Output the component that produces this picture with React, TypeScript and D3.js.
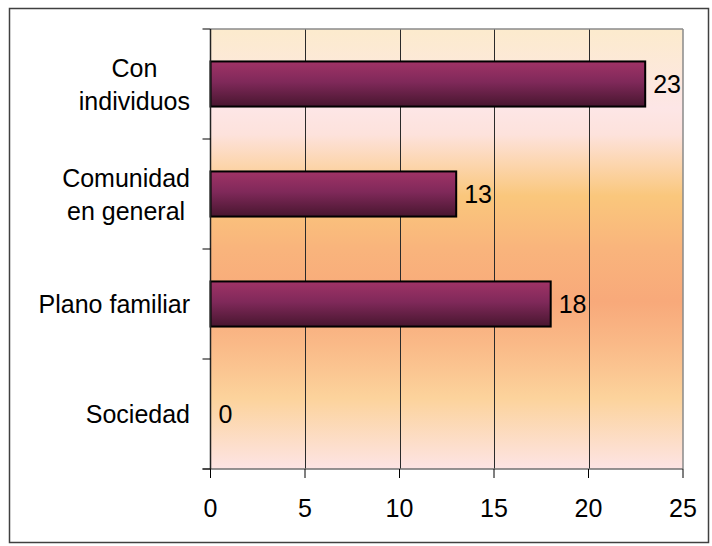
import React, { useEffect, useRef } from "react";
import * as d3 from "d3";

const categories: string[][] = [["Con", "individuos"], ["Comunidad", "en general"], ["Plano familiar"], ["Sociedad"]];
const values: number[] = [23, 13, 18, 0];
const xTicks: number[] = [0, 5, 10, 15, 20, 25];

const W = 712;
const H = 546;
const FONT = "'Liberation Sans', Arial, sans-serif";
const FS = 25;

export default function App() {
  const ref = useRef<SVGSVGElement | null>(null);

  useEffect(() => {
    const svg = d3.select(ref.current);
    svg.selectAll("*").remove();

    const left = 210.5, right = 683, top = 29, bottom = 469;
    const x = d3.scaleLinear().domain([0, 25]).range([left, right]);
    const y = d3.scaleBand<number>().domain(d3.range(categories.length)).range([top, bottom]).paddingInner(0).paddingOuter(0);

    const defs = svg.append("defs");
    const bg = defs.append("linearGradient").attr("id", "bg").attr("x1", 0).attr("y1", 0).attr("x2", 0).attr("y2", 1);
    [
      [0, "#FCEBCD"],
      [0.18, "#FDE6E6"],
      [0.24, "#FDE2DC"],
      [0.31, "#FCD5AC"],
      [0.38, "#FAC77C"],
      [0.5, "#F9B47C"],
      [0.62, "#F8A97A"],
      [0.72, "#FABA88"],
      [0.84, "#FCD39C"],
      [1, "#FDE4E4"],
    ].forEach(([o, c]) => bg.append("stop").attr("offset", o as number).attr("stop-color", c as string));

    const bar = defs.append("linearGradient").attr("id", "bar").attr("x1", 0).attr("y1", 0).attr("x2", 0).attr("y2", 1);
    [
      [0, "#A03366"],
      [0.45, "#80295A"],
      [1, "#48162F"],
    ].forEach(([o, c]) => bar.append("stop").attr("offset", o as number).attr("stop-color", c as string));

    svg.append("rect").attr("x", 0).attr("y", 0).attr("width", W).attr("height", H).attr("fill", "#ffffff");
    // outer frame
    svg.append("rect").attr("x", 9.5).attr("y", 8.5).attr("width", 699).attr("height", 534)
      .attr("fill", "none").attr("stroke", "#404040").attr("stroke-width", 1.5);

    // plot background
    svg.append("rect").attr("x", left).attr("y", top).attr("width", right - left).attr("height", bottom - top).attr("fill", "url(#bg)");

    // gridlines
    svg.append("g").selectAll("line").data(xTicks.slice(1, -1)).join("line")
      .attr("x1", (d) => Math.round(x(d)) + 0.5).attr("x2", (d) => Math.round(x(d)) + 0.5)
      .attr("y1", top).attr("y2", bottom).attr("stroke", "#2a2a2a").attr("stroke-width", 1);

    // plot frame top/right
    svg.append("line").attr("x1", left).attr("x2", right).attr("y1", top).attr("y2", top).attr("stroke", "#8a8a8a").attr("stroke-width", 1.5);
    svg.append("line").attr("x1", right).attr("x2", right).attr("y1", top).attr("y2", bottom).attr("stroke", "#8a8a8a").attr("stroke-width", 1.5);

    // bars
    const bh = y.bandwidth() * 0.41;
    svg.append("g").selectAll("rect").data(values).join("rect")
      .attr("x", x(0)).attr("y", (_d, i) => (y(i) as number) + y.bandwidth() / 2 - bh / 2)
      .attr("width", (d) => x(d) - x(0)).attr("height", bh)
      .attr("fill", "url(#bar)").attr("stroke", (d) => (d > 0 ? "#000" : "none")).attr("stroke-width", 2);

    // value labels
    svg.append("g").selectAll("text").data(values).join("text")
      .attr("x", (d) => x(d) + 8).attr("y", (_d, i) => (y(i) as number) + y.bandwidth() / 2)
      .attr("dy", "0.36em").attr("font-family", FONT).attr("font-size", FS).attr("fill", "#000")
      .text((d) => String(d));

    // x axis
    svg.append("line").attr("x1", left - 8).attr("x2", right).attr("y1", bottom).attr("y2", bottom).attr("stroke", "#707070").attr("stroke-width", 1.5);
    svg.append("g").selectAll("line").data(xTicks).join("line")
      .attr("x1", (d) => x(d)).attr("x2", (d) => x(d)).attr("y1", bottom).attr("y2", bottom + 9).attr("stroke", "#000").attr("stroke-width", 1);
    svg.append("g").selectAll("text").data(xTicks).join("text")
      .attr("x", (d) => x(d)).attr("y", 517).attr("text-anchor", "middle")
      .attr("font-family", FONT).attr("font-size", FS).attr("fill", "#000").text((d) => String(d));

    // y axis
    svg.append("line").attr("x1", left).attr("x2", left).attr("y1", top).attr("y2", bottom).attr("stroke", "#222").attr("stroke-width", 1.5);
    const bounds = d3.range(categories.length + 1).map((i) => top + i * y.bandwidth());
    svg.append("g").selectAll("line").data(bounds).join("line")
      .attr("x1", left - 8).attr("x2", left).attr("y1", (d) => d).attr("y2", (d) => d).attr("stroke", "#000").attr("stroke-width", 1);

    // category labels
    const labelRight = 190;
    const lh = 33;
    categories.forEach((lines, i) => {
      const cy = (y(i) as number) + y.bandwidth() / 2;
      const g = svg.append("g");
      const texts = lines.map((ln, j) =>
        g.append("text").attr("font-family", FONT).attr("font-size", FS).attr("fill", "#000")
          .attr("text-anchor", "middle")
          .attr("y", cy + (j - (lines.length - 1) / 2) * lh).attr("dy", "0.36em").text(ln)
      );
      const maxW = Math.max(...texts.map((t) => (t.node() as SVGTextElement).getComputedTextLength()));
      texts.forEach((t) => t.attr("x", labelRight - maxW / 2));
    });
  }, []);

  return (
    <svg ref={ref} width={W} height={H} style={{ position: "absolute", left: 0, top: 0, display: "block" }} />
  );
}
